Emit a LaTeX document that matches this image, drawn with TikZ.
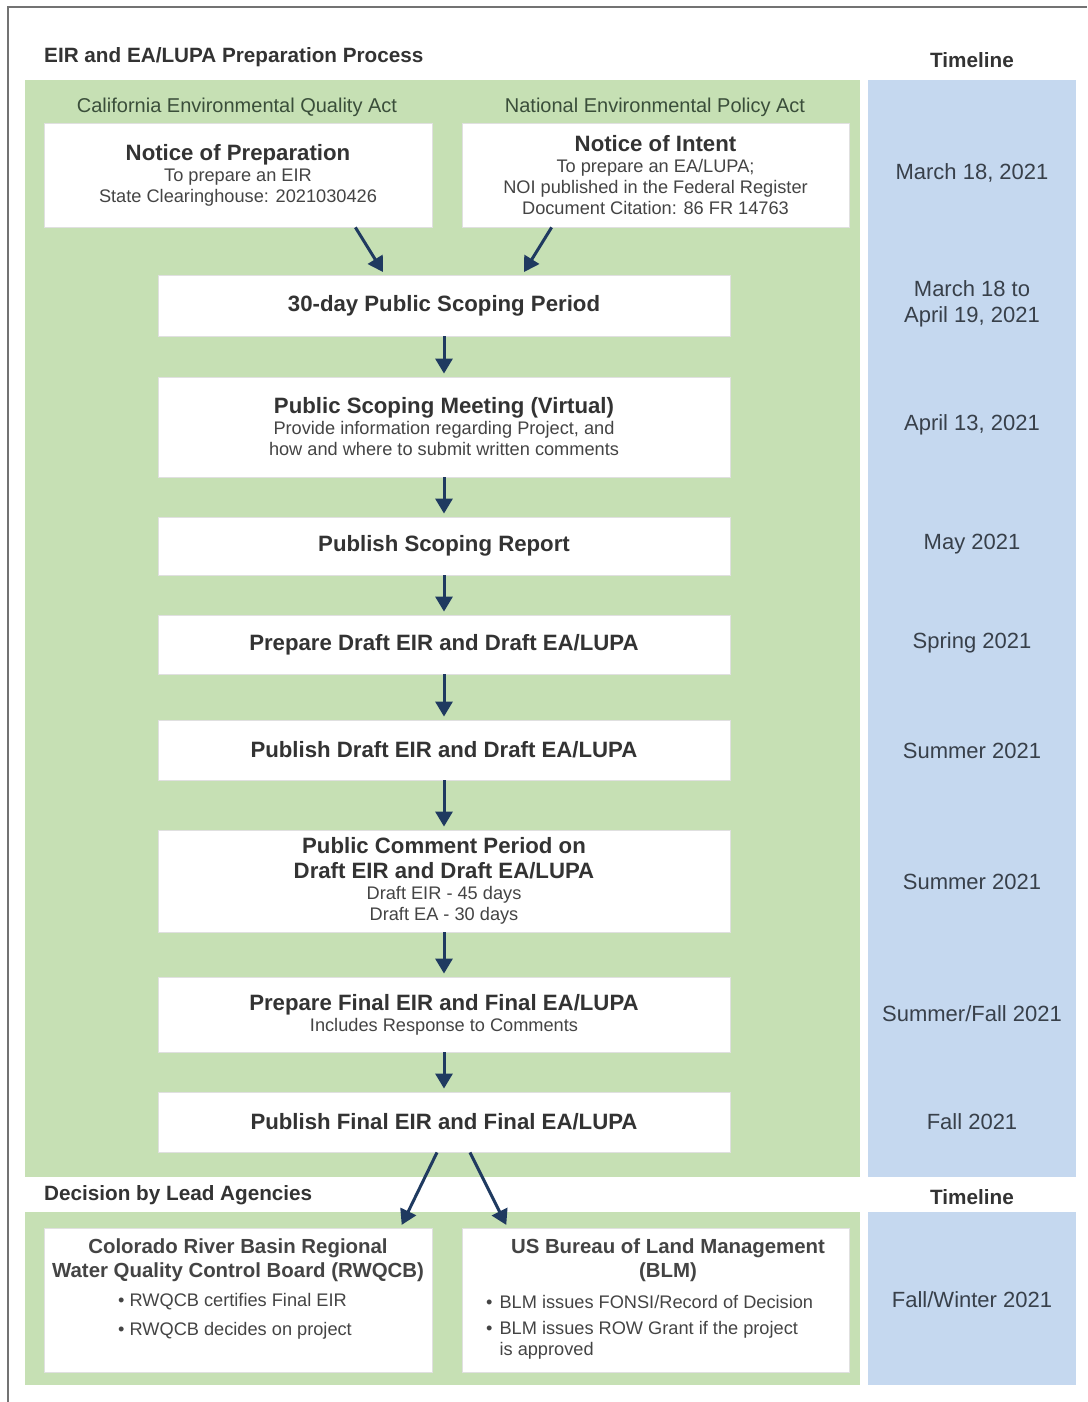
\documentclass[tikz,border=0pt]{standalone}
\usepackage{fontspec}
\setmainfont{Liberation Sans}
\usetikzlibrary{arrows.meta}
\definecolor{grn}{HTML}{C6E0B4}
\definecolor{blu}{HTML}{C5D8EF}
\definecolor{arr}{HTML}{1F3A60}
\definecolor{txt}{HTML}{333333}
\definecolor{stxt}{HTML}{444444}
\definecolor{gtxt}{HTML}{3A4E3A}
\definecolor{ttxt}{HTML}{38404A}
\newcommand\hdf{\bfseries\fontsize{22.2}{24}\selectfont\color{txt}}
\newcommand\hdlow{\bfseries\fontsize{20.4}{23.5}\selectfont\color{txt}}
\newcommand\smf{\fontsize{18.2}{21}\selectfont}
\tikzset{
  box/.style={draw=black!12, line width=0.8pt, fill=white, inner sep=0pt, align=center, text=stxt, font=\smf},
  flow/.style={-{Triangle[length=15pt,width=17pt]}, line width=3pt, draw=arr, shorten >=3pt},
  ttl/.style={font=\bfseries\fontsize{20.7}{24}\selectfont, text=txt, inner sep=0pt},
  act/.style={font=\fontsize{20}{22}\selectfont, text=gtxt, inner sep=0pt},
  date/.style={font=\fontsize{22}{25.5}\selectfont, text=ttxt, align=center, inner sep=0pt},
  item/.style={font=\smf, text=stxt, anchor=west, inner sep=0pt, align=left}
}
\begin{document}
\begin{tikzpicture}[x=1pt,y=-1pt]
\useasboundingbox (0,0) rectangle (1087,1402);
% frame
\draw[black!55, line width=1.5pt] (8,1402) -- (8,7) -- (1087,7);
% panels
\fill[grn] (25,80) rectangle (860,1177);
\fill[blu] (868,80) rectangle (1076,1177);
\fill[grn] (25,1212) rectangle (860,1385);
\fill[blu] (868,1212) rectangle (1076,1385);
% titles
\node[ttl, anchor=west] (title) at (44,57) {EIR and EA/LUPA Preparation Process};
\node[ttl] (tl1) at (972,60) {Timeline};
\node[ttl, anchor=west] (dec) at (44,1195) {Decision by Lead Agencies};
\node[ttl] (tl2) at (972,1197) {Timeline};
\node[act] (ceqa) at (237,107) {California Environmental Quality Act};
\node[act] (nepa) at (655,107) {National Environmental Policy Act};
% boxes
\node[box, minimum width=388, minimum height=104] (nop) at (238,175)
  {{\hdf Notice of Preparation}\\To prepare an EIR\\State Clearinghouse: 2021030426};
\node[box, minimum width=387, minimum height=104] (noi) at (655.5,175)
  {{\hdf Notice of Intent}\\To prepare an EA/LUPA;\\NOI published in the Federal Register\\Document Citation: 86 FR 14763};
\node[box, minimum width=572, minimum height=61] (s30) at (444,305.5)
  {{\hdf 30-day Public Scoping Period}};
\node[box, minimum width=572, minimum height=100] (meet) at (444,427)
  {{\hdf Public Scoping Meeting (Virtual)}\\Provide information regarding Project, and\\how and where to submit written comments};
\node[box, minimum width=572, minimum height=58] (rep) at (444,546)
  {{\hdf Publish Scoping Report}};
\node[box, minimum width=572, minimum height=59] (pdraft) at (444,644.5)
  {{\hdf Prepare Draft EIR and Draft EA/LUPA}};
\node[box, minimum width=572, minimum height=60] (pubdraft) at (444,750)
  {{\hdf Publish Draft EIR and Draft EA/LUPA}};
\node[box, minimum width=572, minimum height=102] (comment) at (444,881)
  {{\hdf Public Comment Period on}\\[4pt]{\hdf Draft EIR and Draft EA/LUPA}\\Draft EIR - 45 days\\Draft EA - 30 days};
\node[box, minimum width=572, minimum height=75] (pfinal) at (444,1014.5)
  {{\hdf Prepare Final EIR and Final EA/LUPA}\\Includes Response to Comments};
\node[box, minimum width=572, minimum height=60] (pubfinal) at (444,1122)
  {{\hdf Publish Final EIR and Final EA/LUPA}};
\node[box, minimum width=388, minimum height=144] (rw) at (238,1300) {};
\node[box, minimum width=387, minimum height=144] (blm) at (655.5,1300) {};
% lower box texts
\node[box, draw=none, fill=none, font=\hdlow] (rwh) at (238,1260)
  {Colorado River Basin Regional\\Water Quality Control Board (RWQCB)};
\node[item] (rw1) at (118,1302) {• RWQCB certifies Final EIR};
\node[item] (rw2) at (118,1331) {• RWQCB decides on project};
\node[box, draw=none, fill=none, font=\hdlow] (blmh) at (668,1260)
  {US Bureau of Land Management\\(BLM)};
\node[item] (b1) at (486,1302) {•\hspace{7pt}BLM issues FONSI/Record of Decision};
\node[item, anchor=north west] (b2) at (486,1320) {•\hspace{7pt}\begin{tabular}[t]{@{}l@{}}BLM issues ROW Grant if the project\\is approved\end{tabular}};
% timeline dates
\node[date] (d1) at (972,173) {March 18, 2021};
\node[date] (d2) at (972,304) {March 18 to\\April 19, 2021};
\node[date] (d3) at (972,425) {April 13, 2021};
\node[date] (d4) at (972,544) {May 2021};
\node[date] (d5) at (972,643) {Spring 2021};
\node[date] (d6) at (972,751) {Summer 2021};
\node[date] (d7) at (972,882) {Summer 2021};
\node[date] (d8) at (972,1014) {Summer/Fall 2021};
\node[date] (d9) at (972,1122) {Fall 2021};
\node[date] (d10) at (972,1300) {Fall/Winter 2021};
% connectors
\draw[flow] ([xshift=-77pt]nop.south east) -- ([xshift=227pt]s30.north west);
\draw[flow] ([xshift=90pt]noi.south west) -- ([xshift=-208pt]s30.north east);
\draw[flow] (s30) -- (meet);
\draw[flow] (meet) -- (rep);
\draw[flow] (rep) -- (pdraft);
\draw[flow] (pdraft) -- (pubdraft);
\draw[flow] (pubdraft) -- (comment);
\draw[flow] (comment) -- (pfinal);
\draw[flow] (pfinal) -- (pubfinal);
\draw[flow] ([xshift=-7pt]pubfinal.south) -- ([xshift=-32pt]rw.north east);
\draw[flow] ([xshift=26pt]pubfinal.south) -- ([xshift=46pt]blm.north west);
\end{tikzpicture}
\end{document}
